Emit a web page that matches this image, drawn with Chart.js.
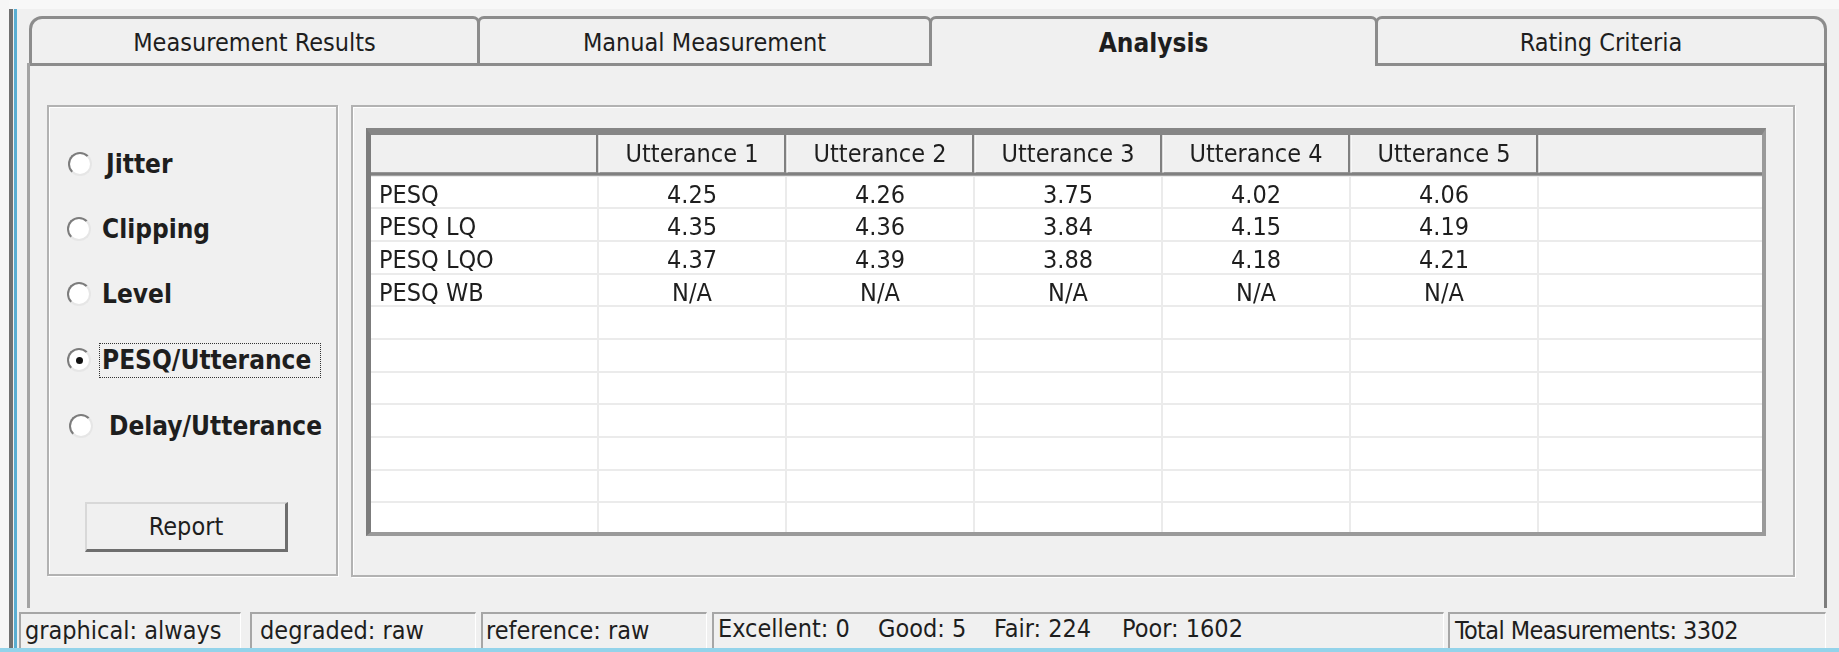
<!DOCTYPE html>
<html><head><meta charset="utf-8">
<script src="https://cdn.jsdelivr.net/npm/chart.js@4.4.1/dist/chart.umd.min.js"></script>
<style>
html,body{margin:0;padding:0;}
body{width:1839px;height:652px;overflow:hidden;position:relative;background:#f0f0f0;font-family:'DejaVu Sans Condensed','DejaVu Sans',sans-serif;color:#1e1e1e;}
div{box-sizing:border-box;}
.a{position:absolute;}
.tab{position:absolute;top:16px;height:50px;border:3px solid #8c8c8c;border-bottom:none;border-radius:7px 7px 0 0;display:flex;align-items:center;justify-content:center;font-size:25px;background:#f0f0f0;}
.grp{position:absolute;border:2px solid #b2b2b2;box-shadow:inset 1px 1px 0 #fff,1px 1px 0 #fff;}
.radio{position:absolute;width:24px;height:24px;border-radius:50%;background:#fff;border:2px solid;border-color:#7c7c7c #e6e6e6 #e6e6e6 #7c7c7c;}
.rl{position:absolute;font-weight:bold;font-size:26px;line-height:30px;white-space:nowrap;}
.sb{position:absolute;top:612px;height:36px;border-top:2px solid #a6a6a6;border-left:2px solid #a6a6a6;border-right:1px solid #fff;font-size:25px;line-height:28px;padding-top:3px;padding-left:4px;white-space:pre;}
.st{position:absolute;top:615px;font-size:25px;line-height:28px;white-space:pre;}
</style>
</head><body>
<!-- window chrome -->
<div class="a" style="left:0;top:0;width:1839px;height:9px;background:#f8f8f8"></div>
<div class="a" style="left:0;top:0;width:9px;height:652px;background:#f6f6f6"></div>
<div class="a" style="left:9px;top:9px;width:4px;height:643px;background:#707070"></div>
<div class="a" style="left:14px;top:9px;width:3px;height:643px;background:#5aaed2"></div>
<div class="a" style="left:0;top:648px;width:1839px;height:4px;background:#93d3ea"></div>

<!-- tabs -->
<div class="tab" style="left:29px;width:451px;border-top-left-radius:13px;">Measurement Results</div>
<div class="tab" style="left:477px;width:455px;">Manual Measurement</div>
<div class="tab" style="left:929px;width:449px;font-weight:bold;font-size:26px;">Analysis</div>
<div class="tab" style="left:1375px;width:452px;border-top-right-radius:13px;">Rating Criteria</div>
<div class="a" style="left:29px;top:63px;width:902px;height:3px;background:#8c8c8c"></div>
<div class="a" style="left:1377px;top:63px;width:450px;height:3px;background:#8c8c8c"></div>
<div class="a" style="left:27px;top:63px;width:3px;height:545px;background:#a3a3a3"></div>
<div class="a" style="left:1824px;top:63px;width:3px;height:545px;background:#7d7d7d"></div>

<!-- group boxes -->
<div class="grp" style="left:47px;top:105px;width:291px;height:471px;"></div>
<div class="grp" style="left:351px;top:105px;width:1444px;height:472px;"></div>

<!-- radio buttons -->
<div class="radio" style="left:68px;top:152px"></div>
<div class="rl" style="left:106px;top:149px">Jitter</div>
<div class="radio" style="left:67px;top:217px"></div>
<div class="rl" style="left:102px;top:214px">Clipping</div>
<div class="radio" style="left:67px;top:282px"></div>
<div class="rl" style="left:102px;top:279px">Level</div>
<div class="radio" style="left:67px;top:348px"><div class="a" style="left:6.5px;top:6.5px;width:7px;height:7px;border-radius:50%;background:#111"></div></div>
<div class="rl" style="left:102px;top:345px">PESQ/Utterance</div>
<div class="a" style="left:99px;top:343px;width:222px;height:35px;border:1px dotted #333"></div>
<div class="radio" style="left:69px;top:414px"></div>
<div class="rl" style="left:109px;top:411px">Delay/Utterance</div>

<!-- report button -->
<div class="a" style="left:85px;top:502px;width:203px;height:50px;border-top:2px solid #d8d8d8;border-left:2px solid #d8d8d8;border-right:3px solid #6e6e6e;border-bottom:3px solid #6e6e6e;display:flex;align-items:center;justify-content:center;font-size:25px;">Report</div>

<!-- table -->
<div class="a" style="left:366px;top:128px;width:1400px;height:408px;border-top:7px solid #868686;border-left:5px solid #7c7c7c;border-right:4px solid #9a9a9a;border-bottom:4px solid #9a9a9a;background:#fff;"></div>
<div class="a" style="left:371px;top:135px;width:1391px;height:397px;overflow:hidden;background:#fff;">
  <canvas id="c" width="1391" height="400" style="display:block"></canvas>
</div>

<!-- status bar -->
<div class="sb" style="left:19px;width:222px;">graphical: always</div>
<div class="sb" style="left:250px;width:226px;padding-left:8px">degraded: raw</div>
<div class="sb" style="left:481px;width:226px;padding-left:3px">reference: raw</div>
<div class="sb" style="left:712px;width:732px;"></div>
<div class="st" style="left:718px">Excellent: 0</div>
<div class="st" style="left:878px">Good: 5</div>
<div class="st" style="left:994px">Fair: 224</div>
<div class="st" style="left:1122px">Poor: 1602</div>
<div class="sb" style="left:1448px;width:378px;padding-left:5px;letter-spacing:-0.6px">Total Measurements: 3302</div>

<script>
// ---- data ----
const columns = ['Utterance 1', 'Utterance 2', 'Utterance 3', 'Utterance 4', 'Utterance 5'];
const metrics = ['PESQ', 'PESQ LQ', 'PESQ LQO', 'PESQ WB'];
const pesq    = [4.25, 4.26, 3.75, 4.02, 4.06];
const pesqLQ  = [4.35, 4.36, 3.84, 4.15, 4.19];
const pesqLQO = [4.37, 4.39, 3.88, 4.18, 4.21];
const pesqWB  = [null, null, null, null, null];   // shown as N/A
const emptyRows = 7;

const seriesValues = [pesq, pesqLQ, pesqLQO, pesqWB];
const rowLabels = metrics.concat(new Array(emptyRows).fill(''));

const FONT = "'DejaVu Sans Condensed', 'DejaVu Sans', sans-serif";
const TXT = '#1e1e1e';
const GRID = '#ebebeb';

Chart.defaults.font.family = FONT;
Chart.defaults.font.size = 25;
Chart.defaults.color = TXT;

const tablePlugin = {
  id: 'tableCells',
  beforeDraw(chart) {
    const {ctx, width} = chart;
    const xs = chart.scales.x;
    ctx.save();
    ctx.fillStyle = '#f0f0f0';
    ctx.fillRect(0, 0, width, xs.bottom);
    ctx.restore();
  },
  afterDatasetsDraw(chart) {
    const ctx = chart.ctx;
    ctx.save();
    ctx.font = '25px ' + FONT;
    ctx.fillStyle = TXT;
    ctx.textAlign = 'center';
    ctx.textBaseline = 'middle';
    chart.data.datasets.forEach((ds, i) => {
      const meta = chart.getDatasetMeta(i);
      meta.data.forEach((pt, j) => {
        const v = ds.data[j].v;
        ctx.fillText(v == null ? 'N/A' : v.toFixed(2), pt.x, pt.y + 4);
      });
    });
    ctx.restore();
  },
  afterDraw(chart) {
    const {ctx, width} = chart;
    const xs = chart.scales.x;
    const hb = xs.bottom;
    ctx.save();
    ctx.fillStyle = '#808080';
    ctx.fillRect(0, hb - 3.5, width, 3.5);
    const n = xs.getLabels().length;
    for (let i = 0; i <= n; i++) {
      const bx = Math.round(xs.getPixelForValue(i - 0.5));
      ctx.fillStyle = '#808080';
      ctx.fillRect(bx - 2, 0, 2.5, hb - 3);
      ctx.fillStyle = '#ffffff';
      ctx.fillRect(bx + 0.5, 0, 1, hb - 3);
    }
    ctx.restore();
  }
};

function noPad(s) { s.paddingTop = 0; s.paddingBottom = 0; s.paddingLeft = 0; s.paddingRight = 0; }

new Chart(document.getElementById('c'), {
  type: 'scatter',
  data: {
    datasets: metrics.map((m, r) => ({
      label: m,
      data: columns.map((c, k) => ({x: c, y: m, v: seriesValues[r][k]})),
      pointRadius: 0,
      pointHoverRadius: 0
    }))
  },
  options: {
    responsive: false,
    animation: false,
    events: [],
    layout: {padding: {left: 8, top: 0, right: 0, bottom: 0}},
    plugins: {legend: {display: false}, tooltip: {enabled: false}},
    scales: {
      x: {
        type: 'category', labels: columns, position: 'top', offset: true,
        grid: {offset: true, color: GRID, lineWidth: 2, drawTicks: false},
        border: {display: false},
        ticks: {autoSkip: false, maxRotation: 0, minRotation: 0, padding: 5, color: TXT, font: {size: 25}},
        afterFit(s) { s.height = 40.7; noPad(s); }
      },
      y: {
        type: 'category', labels: rowLabels, position: 'left', offset: true,
        grid: {offset: true, color: GRID, lineWidth: 2, tickLength: 227},
        border: {display: false},
        ticks: {autoSkip: false, crossAlign: 'far', labelOffset: 4, color: TXT, font: {size: 25}},
        afterFit(s) { s.width = 219; noPad(s); }
      },
      y2: {
        type: 'category', labels: rowLabels, position: 'right', offset: true,
        grid: {offset: true, color: GRID, lineWidth: 2, tickLength: 224, drawOnChartArea: false},
        border: {display: false},
        ticks: {display: false},
        afterFit(s) { s.width = 224; noPad(s); }
      }
    }
  },
  plugins: [tablePlugin]
});
</script>
</body></html>
